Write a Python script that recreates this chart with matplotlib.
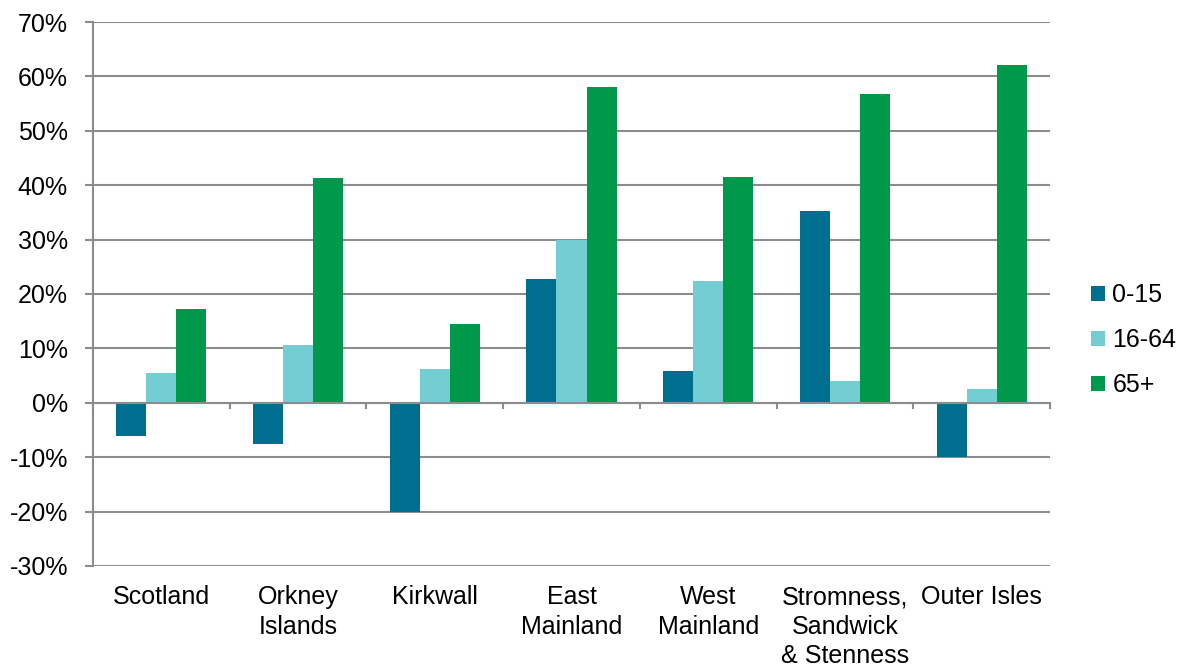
import matplotlib
matplotlib.use("Agg")
import matplotlib.pyplot as plt
import numpy as np
from matplotlib.ticker import FuncFormatter, MultipleLocator

plt.rcParams["font.family"] = ["Liberation Sans", "DejaVu Sans"]

AREAS = ["Scotland", "Orkney\nIslands", "Kirkwall", "East\nMainland",
         "West\nMainland", "Stromness,\nSandwick\n& Stenness", "Outer Isles"]
AGE_GROUPS = ["0-15", "16-64", "65+"]
CHANGE_0_15 = [-6.1, -7.5, -20.0, 22.8, 5.9, 35.3, -9.9]
CHANGE_16_64 = [5.5, 10.7, 6.3, 30.0, 22.3, 4.0, 2.6]
CHANGE_65 = [17.3, 41.4, 14.5, 58.0, 41.5, 56.8, 62.1]
COLOURS = ["#006F8F", "#75CDD4", "#00984B"]
GRID_C = "#8C8C8C"
FS = 18

fig = plt.figure(figsize=(11.83, 6.71), dpi=100)
ax = fig.add_axes([0.0786, 0.1565, 0.809, 0.8107])

x = np.arange(len(AREAS))
w = 0.22
for k, (vals, lab, col) in enumerate(zip([CHANGE_0_15, CHANGE_16_64, CHANGE_65],
                                        AGE_GROUPS, COLOURS)):
    ax.bar(x + (k - 1) * w, vals, width=w, color=col, label=lab, zorder=3)

ax.set_xlim(-0.5, len(AREAS) - 0.5)
ax.set_ylim(-30, 70)
ax.yaxis.set_major_locator(MultipleLocator(10))
ax.yaxis.set_major_formatter(FuncFormatter(lambda v, _: f"{v:.0f}%"))
ax.grid(axis="y", color=GRID_C, lw=1.5, zorder=0)
ax.tick_params(axis="y", length=6, width=1.5, color=GRID_C, labelsize=FS, pad=12)

# x axis sits on the zero line, with ticks between the groups
for s in ("top", "right"):
    ax.spines[s].set_visible(False)
ax.spines["bottom"].set_position(("data", 0))
ax.spines["bottom"].set_color(GRID_C)
ax.spines["bottom"].set_linewidth(1.5)
ax.spines["bottom"].set_zorder(4)
ax.spines["left"].set_color(GRID_C)
ax.spines["left"].set_linewidth(1.5)
ax.set_xticks(np.arange(len(AREAS) + 1) - 0.5)
ax.set_xticklabels([])
ax.tick_params(axis="x", length=4, width=1.5, color=GRID_C)

for i, name in enumerate(AREAS):
    ax.text(i, -0.035, name, transform=ax.get_xaxis_transform(), ha="center",
            va="top", fontsize=FS, linespacing=1.3)

ax.legend(loc="center left", bbox_to_anchor=(1.043, 0.415), frameon=False,
          fontsize=FS, handlelength=0.55, handleheight=0.55, handletextpad=0.3,
          labelspacing=0.85, borderpad=0, borderaxespad=0)

fig.savefig("out.png", dpi=100)
